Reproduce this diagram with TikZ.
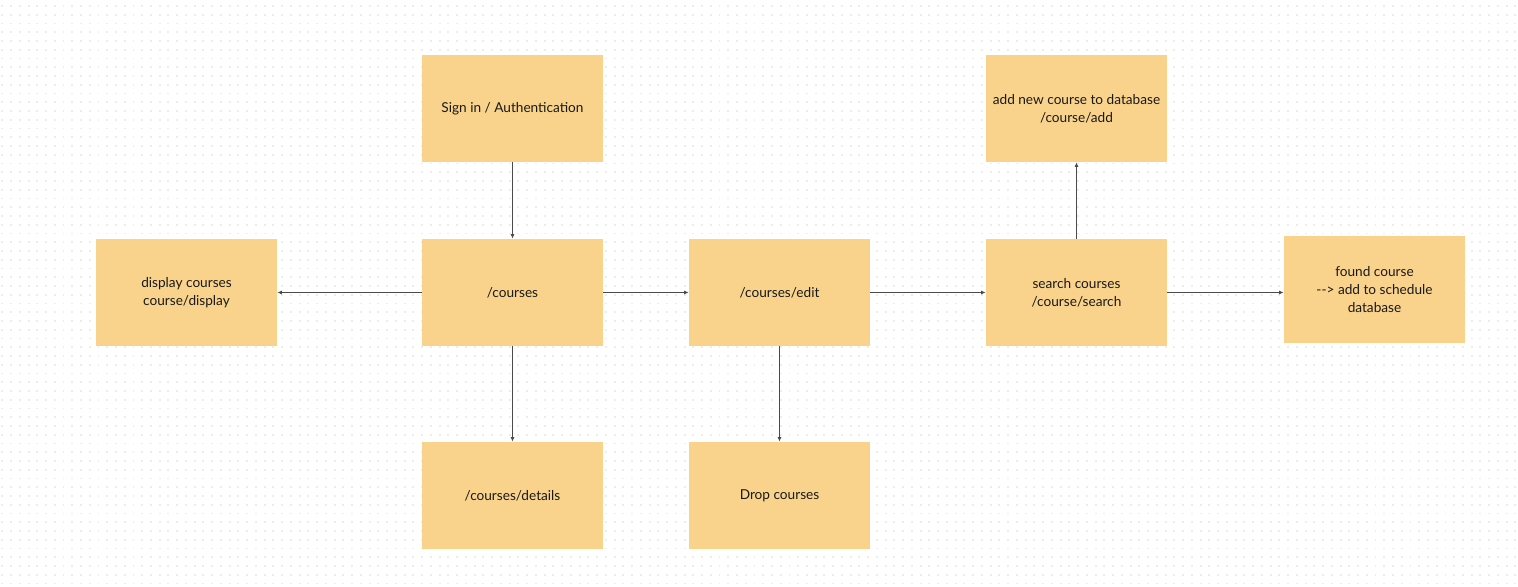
\documentclass[tikz,border=0pt]{standalone}
\usepackage{fontspec}
\setmainfont{Lato}
\usepackage{xcolor}
\usepackage{tikz}
\usetikzlibrary{arrows.meta,positioning}

\definecolor{cardfill}{HTML}{F9D38B}
\definecolor{dotgray}{HTML}{EDEDED}
\definecolor{linkgray}{HTML}{4A4A4A}

\begin{document}
\begin{tikzpicture}[x=0.025cm,y=-0.025cm,>={Latex[length=3.2pt,width=2.8pt]},
  card/.style={fill=cardfill,minimum width=4.525cm,minimum height=2.675cm,
    align=center,text=black!90,font=\fontsize{9.7}{12.8}\selectfont},
  link/.style={draw=linkgray,line width=0.65pt,->}]
  \useasboundingbox (0,0) rectangle (1518,586);
  \fill[white] (0,0) rectangle (1518,586);
  % dotted canvas
  \foreach \r in {0,...,66} {
    \draw[dotgray,line width=1.4pt,dash pattern=on 1.4pt off 4.82pt] (1.3,{6+8.75*\r}) -- (1518,{6+8.75*\r});
  }
  % cards
  \node[card] (signin)  at (512.5,108.5) {Sign in / Authentication};
  \node[card] (courses) at (512.5,292.5) {/courses};
  \node[card] (display) at (186.5,292.5) {display courses\\course/display};
  \node[card] (details) at (512.5,495.5) {/courses/details};
  \node[card] (edit)    at (779.5,292.5) {/courses/edit};
  \node[card] (drop)    at (779.5,495.5) {Drop courses};
  \node[card] (search)  at (1076.5,292.5) {search courses\\/course/search};
  \node[card] (addnew)  at (1076.5,108.5) {add new course to database\\/course/add};
  \node[card] (found)   at (1374.5,289.5) {found course\\-{}-{}> add to schedule\\database};
  % links
  \draw[link] (signin) -- (courses);
  \draw[link] (courses) -- (display);
  \draw[link] (courses) -- (details);
  \draw[link] (courses) -- (edit);
  \draw[link] (edit) -- (drop);
  \draw[link] (edit) -- (search);
  \draw[link] (search) -- (addnew);
  \draw[link] (search.east) -- (search.east -| found.west);
\end{tikzpicture}
\end{document}
